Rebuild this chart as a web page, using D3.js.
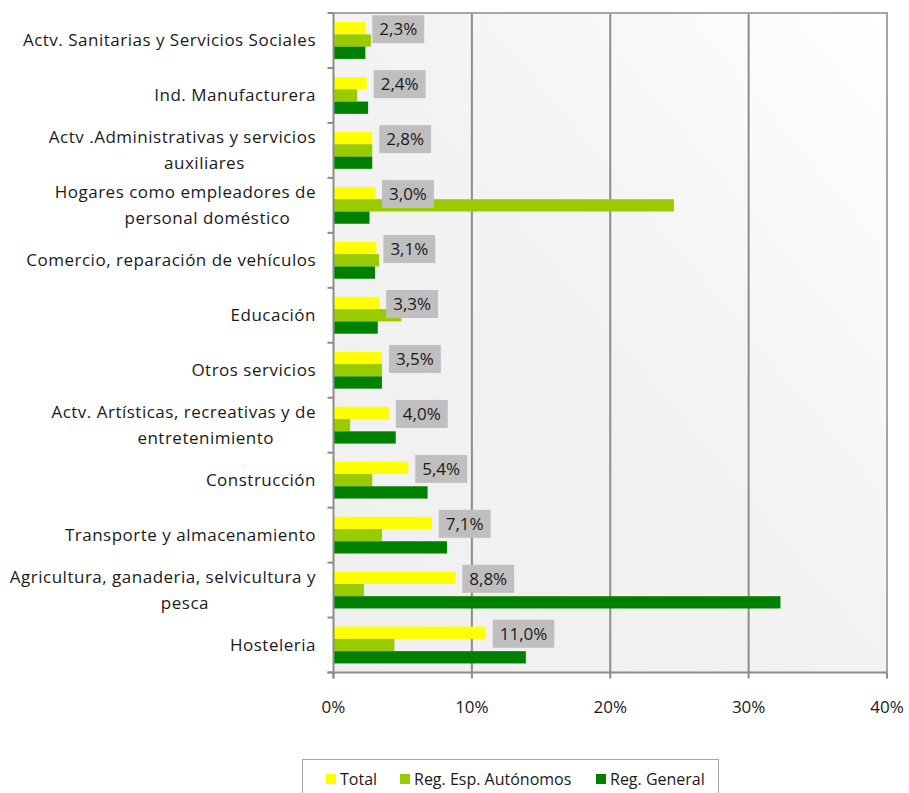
<!DOCTYPE html>
<html><head><meta charset="utf-8">
<script src="https://cdn.jsdelivr.net/npm/d3@7"></script>
<style>body{margin:0;background:#fff;} svg{display:block;font-family:"Open Sans",sans-serif;}</style>
</head><body>
<svg id="c" width="909" height="793"></svg>
<script>
const categories = [
  ["Actv. Sanitarias y Servicios Sociales"],
  ["Ind. Manufacturera"],
  ["Actv .Administrativas y servicios","auxiliares"],
  ["Hogares como empleadores de","personal doméstico"],
  ["Comercio, reparación de vehículos"],
  ["Educación"],
  ["Otros servicios"],
  ["Actv. Artísticas, recreativas y de","entretenimiento"],
  ["Construcción"],
  ["Transporte y almacenamiento"],
  ["Agricultura, ganaderia, selvicultura y","pesca"],
  ["Hosteleria"]
];
const seriesNames = ["Total","Reg. Esp. Autónomos","Reg. General"];
const total      = [2.3, 2.4, 2.8, 3.0, 3.1, 3.3, 3.5, 4.0, 5.4, 7.1, 8.8, 11.0];
const autonomos  = [2.7, 1.7, 2.8, 24.6, 3.3, 4.9, 3.5, 1.2, 2.8, 3.5, 2.2, 4.4];
const general    = [2.3, 2.5, 2.8, 2.6, 3.0, 3.2, 3.5, 4.5, 6.8, 8.2, 32.3, 13.9];
const xTicks = [0, 10, 20, 30, 40];
const colors = ["#ffff00", "#99cc00", "#008000"];

const svg = d3.select("#c");
const L = 333.5, T = 13, R = 887, B = 672.5;
const x = d3.scaleLinear().domain([0, 40]).range([L, R]);
const y = d3.scaleBand().domain(d3.range(categories.length)).range([T, B]).padding(0);
const bw = y.bandwidth();
const ys = d3.scaleBand().domain(d3.range(3)).range([bw*0.165, bw*0.835]).padding(0);
const loc = d3.formatLocale({decimal: ",", thousands: ".", grouping: [3], currency: ["", "€"]});
const fmt = loc.format(".1f");
const txt = "#1a1a1a";

// background gradient
const defs = svg.append("defs");
const g = defs.append("linearGradient").attr("id","bg").attr("x1","0").attr("y1","1").attr("x2","1").attr("y2","0");
g.append("stop").attr("offset","0").attr("stop-color","#efefef");
g.append("stop").attr("offset","0.55").attr("stop-color","#f3f3f3");
g.append("stop").attr("offset","1").attr("stop-color","#ffffff");
svg.append("rect").attr("x", L).attr("y", T).attr("width", R-L).attr("height", B-T).attr("fill","url(#bg)");

// gridlines
svg.append("g").selectAll("line").data(xTicks.slice(1, -1)).join("line")
  .attr("x1", d=>x(d)).attr("x2", d=>x(d)).attr("y1", T).attr("y2", B)
  .attr("stroke","#8c8c8c").attr("stroke-width",2);
// plot border top/right
svg.append("path").attr("d", `M${L},${T}H${R}V${B}`).attr("fill","none").attr("stroke","#a6a6a6").attr("stroke-width",2);

// bars
const series = [total, autonomos, general];
series.forEach((vals, si) => {
  svg.append("g").selectAll("rect").data(vals).join("rect")
    .attr("x", x(0)).attr("y", (d,i)=>y(i)+ys(si))
    .attr("width", d=>x(d)-x(0)).attr("height", ys.bandwidth())
    .attr("fill", colors[si]);
});

// data labels
const lab = svg.append("g").selectAll("g").data(total).join("g")
  .attr("transform",(d,i)=>`translate(${x(d)+7},${y(i)+ys(0)+ys.bandwidth()/2+1})`);
lab.append("rect").attr("fill","#bfbfbf").attr("y",-14).attr("height",28);
const labText = lab.append("text").attr("font-size",17).attr("fill",txt)
  .attr("dy","0.35em").attr("x",7).text(d=>fmt(d)+"%");
labText.each(function(){ const w=this.getComputedTextLength(); d3.select(this.parentNode).select("rect").attr("width", w+14); });

// axes
const yAxisG = svg.append("g");
yAxisG.append("line").attr("x1",L).attr("x2",L).attr("y1",T).attr("y2",B+6).attr("stroke","#8c8c8c").attr("stroke-width",2);
yAxisG.selectAll("line.tk").data(d3.range(categories.length+1)).join("line").attr("class","tk")
  .attr("x1",L-6).attr("x2",L).attr("y1",i=> i<categories.length ? y(i) : B).attr("y2",i=> i<categories.length ? y(i) : B)
  .attr("stroke","#8c8c8c").attr("stroke-width",2);
const xAxisG = svg.append("g");
xAxisG.append("line").attr("x1",L-6).attr("x2",R).attr("y1",B).attr("y2",B).attr("stroke","#8c8c8c").attr("stroke-width",2);
xAxisG.selectAll("line.tk").data(xTicks).join("line").attr("class","tk")
  .attr("x1",d=>x(d)).attr("x2",d=>x(d)).attr("y1",B).attr("y2",B+6).attr("stroke","#8c8c8c").attr("stroke-width",2);
xAxisG.selectAll("text").data(xTicks).join("text")
  .attr("x",d=>x(d)).attr("y",707).attr("dy","0.35em").attr("text-anchor","middle")
  .attr("font-size",17).attr("fill",txt).text(d=>d+"%");

// category labels
const catG = svg.append("g").selectAll("g").data(categories).join("g")
  .attr("transform",(d,i)=>`translate(316,${y(i)+bw/2})`);
catG.each(function(lines){
  const gg = d3.select(this);
  const style = s => s.attr("font-size",17).attr("letter-spacing","0.5px").attr("fill",txt).attr("dy","0.35em");
  if (lines.length === 1) {
    gg.append("text").attr("text-anchor","end").call(style).text(lines[0]);
  } else {
    const t1 = gg.append("text").attr("text-anchor","end").attr("y",-13).call(style).text(lines[0]);
    const w = t1.node().getComputedTextLength();
    gg.append("text").attr("text-anchor","middle").attr("x",-w/2+22).attr("y",13).call(style).text(lines[1]);
  }
});

// legend
const lg = svg.append("g");
lg.append("rect").attr("x",302.5).attr("y",759.5).attr("width",416).attr("height",45).attr("fill","#fff").attr("stroke","#a6a6a6").attr("stroke-width",1);
const legX = [326, 400, 596];
seriesNames.forEach((n,i)=>{
  lg.append("rect").attr("x",legX[i]).attr("y",774).attr("width",10).attr("height",10).attr("fill",colors[i]);
  lg.append("text").attr("x",legX[i]+14).attr("y",779).attr("dy","0.35em").attr("font-size",16).attr("fill",txt).text(n);
});
</script>
</body></html>
